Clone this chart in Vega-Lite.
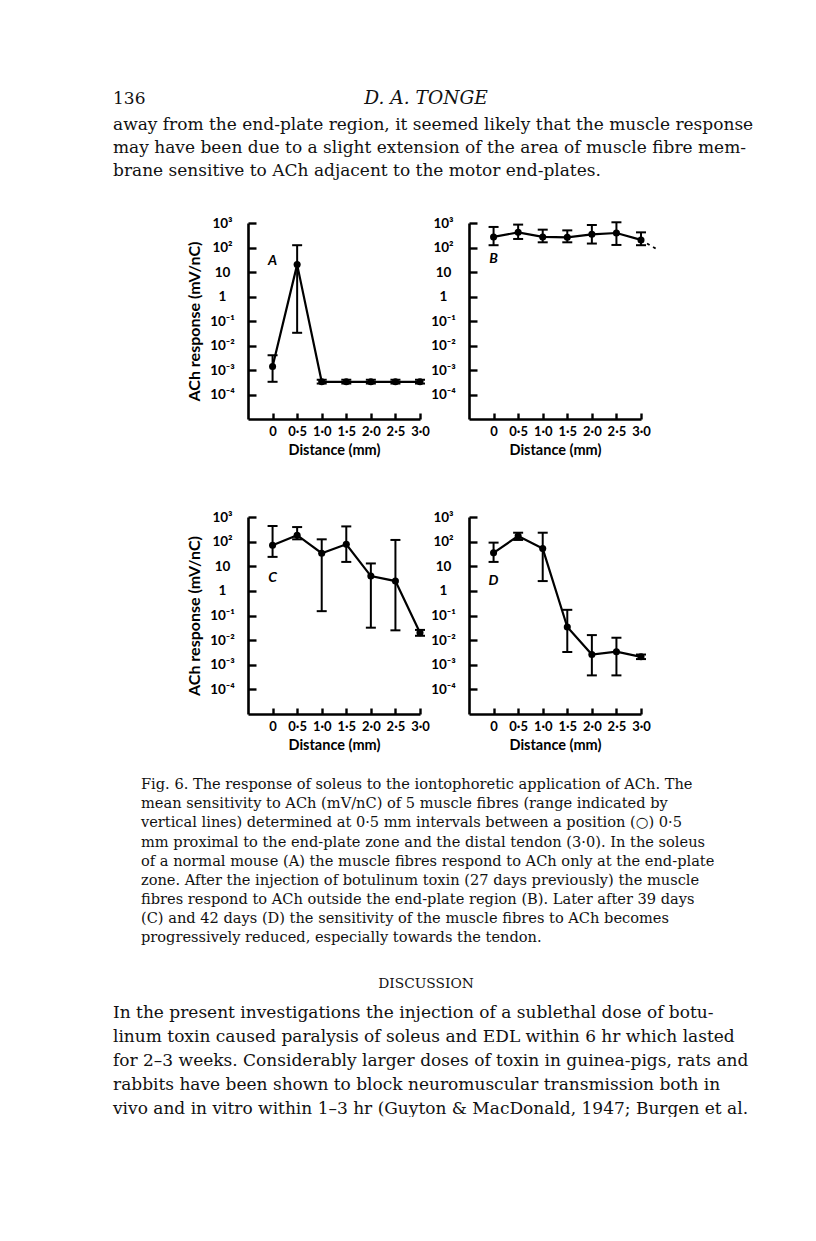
{
  "$schema": "https://vega.github.io/schema/vega-lite/v6.json",
  "background": "white",
  "padding": {"left": 113, "top": 0, "right": 0, "bottom": 0},
  "columns": 3,
  "bounds": "flush",
  "spacing": {"row": 98, "column": 49},
  "config": {"view": {"stroke": null}, "axis": {"grid": false}},
  "datasets": {
    "ach": [
      {"panel": "A", "d": 0, "v": 0.0014, "lo": 0.00033, "hi": 0.004},
      {"panel": "A", "d": 0.5, "v": 20, "lo": 0.033, "hi": 124},
      {"panel": "A", "d": 1, "v": 0.00033, "lo": 0.00028, "hi": 0.0004},
      {"panel": "A", "d": 1.5, "v": 0.00033, "lo": 0.00028, "hi": 0.0004},
      {"panel": "A", "d": 2, "v": 0.00033, "lo": 0.00028, "hi": 0.0004},
      {"panel": "A", "d": 2.5, "v": 0.00033, "lo": 0.00028, "hi": 0.0004},
      {"panel": "A", "d": 3, "v": 0.00033, "lo": 0.00028, "hi": 0.0004},
      {"panel": "B", "d": 0, "v": 270, "lo": 124, "hi": 690},
      {"panel": "B", "d": 0.5, "v": 415, "lo": 223, "hi": 860},
      {"panel": "B", "d": 1, "v": 270, "lo": 163, "hi": 535},
      {"panel": "B", "d": 1.5, "v": 260, "lo": 163, "hi": 500},
      {"panel": "B", "d": 2, "v": 345, "lo": 145, "hi": 830},
      {"panel": "B", "d": 2.5, "v": 390, "lo": 127, "hi": 1070},
      {"panel": "B", "d": 3, "v": 204, "lo": 124, "hi": 415},
      {"panel": "C", "d": 0, "v": 71, "lo": 24, "hi": 430},
      {"panel": "C", "d": 0.5, "v": 182, "lo": 124, "hi": 390},
      {"panel": "C", "d": 1, "v": 34, "lo": 0.15, "hi": 124},
      {"panel": "C", "d": 1.5, "v": 78, "lo": 15, "hi": 415},
      {"panel": "C", "d": 2, "v": 4, "lo": 0.032, "hi": 13},
      {"panel": "C", "d": 2.5, "v": 2.5, "lo": 0.025, "hi": 117},
      {"panel": "C", "d": 3, "v": 0.02, "lo": 0.015, "hi": 0.026},
      {"panel": "D", "d": 0, "v": 35, "lo": 15, "hi": 91},
      {"panel": "D", "d": 0.5, "v": 170, "lo": 117, "hi": 230},
      {"panel": "D", "d": 1, "v": 52, "lo": 2.5, "hi": 230},
      {"panel": "D", "d": 1.5, "v": 0.034, "lo": 0.0033, "hi": 0.17},
      {"panel": "D", "d": 2, "v": 0.0026, "lo": 0.00037, "hi": 0.016},
      {"panel": "D", "d": 2.5, "v": 0.0034, "lo": 0.00037, "hi": 0.0125},
      {"panel": "D", "d": 3, "v": 0.0021, "lo": 0.0017, "hi": 0.0026}
    ],
    "tail": [
      {"panel": "B", "d": 3, "v": 204},
      {"panel": "B", "d": 3.3, "v": 90}
    ],
    "labels": [
      {"panel": "A", "label": "A", "d": 0, "v": 28},
      {"panel": "B", "label": "B", "d": 0, "v": 34},
      {"panel": "C", "label": "C", "d": 0, "v": 3.3},
      {"panel": "D", "label": "D", "d": 0, "v": 2.5}
    ],
    "page": [
      {"block": "top", "kind": "folio", "line": 0, "text": "136"},
      {"block": "top", "kind": "running", "line": 0, "text": "D. A. TONGE"},
      {"block": "top", "kind": "body", "line": 1, "text": "away from the end-plate region, it seemed likely that the muscle response"},
      {"block": "top", "kind": "body", "line": 2, "text": "may have been due to a slight extension of the area of muscle fibre mem-"},
      {"block": "top", "kind": "body", "line": 3, "text": "brane sensitive to ACh adjacent to the motor end-plates."},
      {"block": "bottom", "kind": "caption", "line": 0, "text": "\u2002Fig. 6. The response of soleus to the iontophoretic application of ACh. The"},
      {"block": "bottom", "kind": "caption", "line": 1, "text": "mean sensitivity to ACh (mV/nC) of 5 muscle fibres (range indicated by"},
      {"block": "bottom", "kind": "caption", "line": 2, "text": "vertical lines) determined at 0\u00b75 mm intervals between a position (\u25cb) 0\u00b75"},
      {"block": "bottom", "kind": "caption", "line": 3, "text": "mm proximal to the end-plate zone and the distal tendon (3\u00b70). In the soleus"},
      {"block": "bottom", "kind": "caption", "line": 4, "text": "of a normal mouse (A) the muscle fibres respond to ACh only at the end-plate"},
      {"block": "bottom", "kind": "caption", "line": 5, "text": "zone. After the injection of botulinum toxin (27 days previously) the muscle"},
      {"block": "bottom", "kind": "caption", "line": 6, "text": "fibres respond to ACh outside the end-plate region (B). Later after 39 days"},
      {"block": "bottom", "kind": "caption", "line": 7, "text": "(C) and 42 days (D) the sensitivity of the muscle fibres to ACh becomes"},
      {"block": "bottom", "kind": "caption", "line": 8, "text": "progressively reduced, especially towards the tendon."},
      {"block": "bottom", "kind": "heading", "line": 0, "text": "DISCUSSION"},
      {"block": "bottom", "kind": "discussion", "line": 1, "text": "\u2003\u2004In the present investigations the injection of a sublethal dose of botu-"},
      {"block": "bottom", "kind": "discussion", "line": 2, "text": "linum toxin caused paralysis of soleus and EDL within 6 hr which lasted"},
      {"block": "bottom", "kind": "discussion", "line": 3, "text": "for 2\u20133 weeks. Considerably larger doses of toxin in guinea-pigs, rats and"},
      {"block": "bottom", "kind": "discussion", "line": 4, "text": "rabbits have been shown to block neuromuscular transmission both in"},
      {"block": "bottom", "kind": "discussion", "line": 5, "text": "vivo and in vitro within 1\u20133 hr (Guyton & MacDonald, 1947; Burgen et al."}
    ]
  },
  "concat": [
    {
      "width": 86, "height": 119,
      "data": {"name": "page"},
      "transform": [{"filter": "datum.block === 'top'"}],
      "layer": [
        {
          "transform": [{"filter": "datum.kind === 'folio'"}],
          "mark": {"type": "text", "align": "left", "baseline": "alphabetic", "font": "DejaVu Serif", "fontSize": 17, "color": "#111", "dy": -2},
          "encoding": {
            "x": {"datum": 0, "type": "quantitative", "scale": {"domain": [0, 1], "range": [0, 626], "nice": false, "zero": false}, "axis": null},
            "y": {"field": "line", "type": "quantitative", "scale": {"domain": [1, 3], "range": [123.5, 170], "nice": false, "zero": false}, "axis": null},
            "text": {"field": "text"}
          }
        },
        {
          "transform": [{"filter": "datum.kind === 'running'"}],
          "mark": {"type": "text", "align": "center", "baseline": "alphabetic", "font": "DejaVu Serif", "fontStyle": "italic", "fontSize": 18.6, "color": "#111", "dy": -2},
          "encoding": {
            "x": {"datum": 0.5, "type": "quantitative", "scale": {"domain": [0, 1], "range": [0, 626], "nice": false, "zero": false}, "axis": null},
            "y": {"field": "line", "type": "quantitative", "scale": {"domain": [1, 3], "range": [123.5, 170], "nice": false, "zero": false}, "axis": null},
            "text": {"field": "text"}
          }
        },
        {
          "transform": [{"filter": "datum.kind === 'body'"}],
          "mark": {"type": "text", "align": "left", "baseline": "alphabetic", "font": "DejaVu Serif", "fontSize": 17, "color": "#111"},
          "encoding": {
            "x": {"datum": 0, "type": "quantitative", "scale": {"domain": [0, 1], "range": [0, 626], "nice": false, "zero": false}, "axis": null},
            "y": {"field": "line", "type": "quantitative", "scale": {"domain": [1, 3], "range": [123.5, 170], "nice": false, "zero": false}, "axis": null},
            "text": {"field": "text"}
          }
        }
      ]
    },
    {"width": 1, "height": 1, "data": {"values": [{"t": ""}]}, "mark": {"type": "text"}, "encoding": {"text": {"field": "t"}}},
    {"width": 1, "height": 1, "data": {"values": [{"t": ""}]}, "mark": {"type": "text"}, "encoding": {"text": {"field": "t"}}},
    {"width": 1, "height": 1, "data": {"values": [{"t": ""}]}, "mark": {"type": "text"}, "encoding": {"text": {"field": "t"}}},
    {
      "width": 172, "height": 196,
      "data": {"name": "ach"},
      "transform": [{"filter": "datum.panel === 'A'"}],
      "encoding": {
        "x": {"field": "d", "type": "quantitative", "scale": {"domain": [-0.5, 3], "nice": false, "zero": false},
          "axis": {"values": [0, 0.5, 1, 1.5, 2, 2.5, 3], "labelExpr": "datum.value === 0 ? '0' : replace(format(datum.value, '.1f'), '.', '\u00b7')", "title": "Distance (mm)", "domainColor": "black", "domainWidth": 2.6, "tickColor": "black", "tickWidth": 2.4, "tickSize": -6, "labelFont": "Lato", "labelFontSize": 13, "labelFontWeight": "bold", "labelColor": "black", "labelPadding": 12, "labelFlush": false, "labelOverlap": false, "titleFont": "Lato", "titleFontSize": 14.5, "titleFontWeight": "bold", "titleColor": "black", "titlePadding": 5}}
      },
      "layer": [
        {"mark": {"type": "line", "color": "black", "strokeWidth": 2.2},
          "encoding": {"y": {"field": "v", "type": "quantitative", "scale": {"type": "log", "domain": [0.00001, 1000], "nice": false},
            "axis": {"values": [0.0001, 0.001, 0.01, 0.1, 1, 10, 100, 1000], "labelExpr": "datum.value > 999 ? '10\u00b3' : datum.value > 99 ? '10\u00b2' : datum.value > 9.9 ? '10' : datum.value > 0.99 ? '1' : datum.value > 0.099 ? '10\u207b\u00b9' : datum.value > 0.0099 ? '10\u207b\u00b2' : datum.value > 0.00099 ? '10\u207b\u00b3' : '10\u207b\u2074'", "title": "ACh response (mV/nC)", "domainColor": "black", "domainWidth": 2.6, "tickColor": "black", "tickWidth": 2.4, "tickSize": -8, "labelFont": "Lato", "labelFontSize": 13.5, "labelFontWeight": "bold", "labelColor": "black", "labelAlign": "center", "labelBaseline": "middle", "labelPadding": 34, "labelOverlap": false, "labelFlush": false, "titleFont": "Lato", "titleFontSize": 16, "titleFontWeight": "bold", "titleColor": "black", "titlePadding": 7}}}},
        {"mark": {"type": "rule", "color": "black", "strokeWidth": 2},
          "encoding": {"y": {"field": "lo", "type": "quantitative", "scale": {"type": "log", "domain": [0.00001, 1000], "nice": false}}, "y2": {"field": "hi"}}},
        {"mark": {"type": "tick", "orient": "horizontal", "color": "black", "size": 10, "thickness": 2, "opacity": 1},
          "encoding": {"y": {"field": "lo", "type": "quantitative", "scale": {"type": "log", "domain": [0.00001, 1000], "nice": false}}}},
        {"mark": {"type": "tick", "orient": "horizontal", "color": "black", "size": 10, "thickness": 2, "opacity": 1},
          "encoding": {"y": {"field": "hi", "type": "quantitative", "scale": {"type": "log", "domain": [0.00001, 1000], "nice": false}}}},
        {"mark": {"type": "circle", "color": "black", "size": 50, "opacity": 1},
          "encoding": {"y": {"field": "v", "type": "quantitative", "scale": {"type": "log", "domain": [0.00001, 1000], "nice": false}}}},
        {"data": {"name": "labels"},
          "transform": [{"filter": "datum.panel === 'A'"}],
          "mark": {"type": "text", "font": "Lato", "fontStyle": "italic", "fontWeight": "bold", "fontSize": 14, "color": "black", "align": "center", "baseline": "middle"},
          "encoding": {"y": {"field": "v", "type": "quantitative", "scale": {"type": "log", "domain": [0.00001, 1000], "nice": false}}, "text": {"field": "label"}}}
      ]
    },
    {
      "width": 172, "height": 196,
      "data": {"name": "ach"},
      "transform": [{"filter": "datum.panel === 'B'"}],
      "encoding": {
        "x": {"field": "d", "type": "quantitative", "scale": {"domain": [-0.5, 3], "nice": false, "zero": false},
          "axis": {"values": [0, 0.5, 1, 1.5, 2, 2.5, 3], "labelExpr": "datum.value === 0 ? '0' : replace(format(datum.value, '.1f'), '.', '\u00b7')", "title": "Distance (mm)", "domainColor": "black", "domainWidth": 2.6, "tickColor": "black", "tickWidth": 2.4, "tickSize": -6, "labelFont": "Lato", "labelFontSize": 13, "labelFontWeight": "bold", "labelColor": "black", "labelPadding": 12, "labelFlush": false, "labelOverlap": false, "titleFont": "Lato", "titleFontSize": 14.5, "titleFontWeight": "bold", "titleColor": "black", "titlePadding": 5}}
      },
      "layer": [
        {"mark": {"type": "line", "color": "black", "strokeWidth": 2.2},
          "encoding": {"y": {"field": "v", "type": "quantitative", "scale": {"type": "log", "domain": [0.00001, 1000], "nice": false},
            "axis": {"values": [0.0001, 0.001, 0.01, 0.1, 1, 10, 100, 1000], "labelExpr": "datum.value > 999 ? '10\u00b3' : datum.value > 99 ? '10\u00b2' : datum.value > 9.9 ? '10' : datum.value > 0.99 ? '1' : datum.value > 0.099 ? '10\u207b\u00b9' : datum.value > 0.0099 ? '10\u207b\u00b2' : datum.value > 0.00099 ? '10\u207b\u00b3' : '10\u207b\u2074'", "title": "", "domainColor": "black", "domainWidth": 2.6, "tickColor": "black", "tickWidth": 2.4, "tickSize": -8, "labelFont": "Lato", "labelFontSize": 13.5, "labelFontWeight": "bold", "labelColor": "black", "labelAlign": "center", "labelBaseline": "middle", "labelPadding": 34, "labelOverlap": false, "labelFlush": false}}}},
        {"data": {"name": "tail"},
          "mark": {"type": "line", "color": "black", "strokeWidth": 1.8, "strokeDash": [3, 4]},
          "encoding": {"y": {"field": "v", "type": "quantitative", "scale": {"type": "log", "domain": [0.00001, 1000], "nice": false}}}},
        {"mark": {"type": "rule", "color": "black", "strokeWidth": 2},
          "encoding": {"y": {"field": "lo", "type": "quantitative", "scale": {"type": "log", "domain": [0.00001, 1000], "nice": false}}, "y2": {"field": "hi"}}},
        {"mark": {"type": "tick", "orient": "horizontal", "color": "black", "size": 10, "thickness": 2, "opacity": 1},
          "encoding": {"y": {"field": "lo", "type": "quantitative", "scale": {"type": "log", "domain": [0.00001, 1000], "nice": false}}}},
        {"mark": {"type": "tick", "orient": "horizontal", "color": "black", "size": 10, "thickness": 2, "opacity": 1},
          "encoding": {"y": {"field": "hi", "type": "quantitative", "scale": {"type": "log", "domain": [0.00001, 1000], "nice": false}}}},
        {"mark": {"type": "circle", "color": "black", "size": 50, "opacity": 1},
          "encoding": {"y": {"field": "v", "type": "quantitative", "scale": {"type": "log", "domain": [0.00001, 1000], "nice": false}}}},
        {"data": {"name": "labels"},
          "transform": [{"filter": "datum.panel === 'B'"}],
          "mark": {"type": "text", "font": "Lato", "fontStyle": "italic", "fontWeight": "bold", "fontSize": 14, "color": "black", "align": "center", "baseline": "middle"},
          "encoding": {"y": {"field": "v", "type": "quantitative", "scale": {"type": "log", "domain": [0.00001, 1000], "nice": false}}, "text": {"field": "label"}}}
      ]
    },
    {
      "width": 86, "height": 197,
      "data": {"name": "page"},
      "transform": [{"filter": "datum.block === 'bottom'"}],
      "resolve": {"scale": {"y": "independent"}},
      "layer": [
        {
          "transform": [{"filter": "datum.kind === 'caption'"}],
          "mark": {"type": "text", "align": "left", "baseline": "alphabetic", "font": "DejaVu Serif", "fontSize": 14.6, "color": "#111"},
          "encoding": {
            "x": {"datum": 0.0447, "type": "quantitative", "scale": {"domain": [0, 1], "range": [0, 626], "nice": false, "zero": false}, "axis": null},
            "y": {"field": "line", "type": "quantitative", "scale": {"domain": [0, 8], "range": [272.3, 425], "nice": false, "zero": false}, "axis": null},
            "text": {"field": "text"}
          }
        },
        {
          "transform": [{"filter": "datum.kind === 'heading'"}],
          "mark": {"type": "text", "align": "center", "baseline": "alphabetic", "font": "DejaVu Serif", "fontSize": 13.8, "color": "#111", "dy": -6.7},
          "encoding": {
            "x": {"datum": 0.5, "type": "quantitative", "scale": {"domain": [0, 1], "range": [0, 626], "nice": false, "zero": false}, "axis": null},
            "y": {"field": "line", "type": "quantitative", "scale": {"domain": [1, 5], "range": [501.3, 596.7], "nice": false, "zero": false}, "axis": null},
            "text": {"field": "text"}
          }
        },
        {
          "transform": [{"filter": "datum.kind === 'discussion'"}],
          "mark": {"type": "text", "align": "left", "baseline": "alphabetic", "font": "DejaVu Serif", "fontSize": 17, "color": "#111"},
          "encoding": {
            "x": {"datum": 0, "type": "quantitative", "scale": {"domain": [0, 1], "range": [0, 626], "nice": false, "zero": false}, "axis": null},
            "y": {"field": "line", "type": "quantitative", "scale": {"domain": [1, 5], "range": [501.3, 596.7], "nice": false, "zero": false}, "axis": null},
            "text": {"field": "text"}
          }
        }
      ]
    },
    {
      "width": 172, "height": 197,
      "data": {"name": "ach"},
      "transform": [{"filter": "datum.panel === 'C'"}],
      "encoding": {
        "x": {"field": "d", "type": "quantitative", "scale": {"domain": [-0.5, 3], "nice": false, "zero": false},
          "axis": {"values": [0, 0.5, 1, 1.5, 2, 2.5, 3], "labelExpr": "datum.value === 0 ? '0' : replace(format(datum.value, '.1f'), '.', '\u00b7')", "title": "Distance (mm)", "domainColor": "black", "domainWidth": 2.6, "tickColor": "black", "tickWidth": 2.4, "tickSize": -6, "labelFont": "Lato", "labelFontSize": 13, "labelFontWeight": "bold", "labelColor": "black", "labelPadding": 12, "labelFlush": false, "labelOverlap": false, "titleFont": "Lato", "titleFontSize": 14.5, "titleFontWeight": "bold", "titleColor": "black", "titlePadding": 5}}
      },
      "layer": [
        {"mark": {"type": "line", "color": "black", "strokeWidth": 2.2},
          "encoding": {"y": {"field": "v", "type": "quantitative", "scale": {"type": "log", "domain": [0.00001, 1000], "nice": false},
            "axis": {"values": [0.0001, 0.001, 0.01, 0.1, 1, 10, 100, 1000], "labelExpr": "datum.value > 999 ? '10\u00b3' : datum.value > 99 ? '10\u00b2' : datum.value > 9.9 ? '10' : datum.value > 0.99 ? '1' : datum.value > 0.099 ? '10\u207b\u00b9' : datum.value > 0.0099 ? '10\u207b\u00b2' : datum.value > 0.00099 ? '10\u207b\u00b3' : '10\u207b\u2074'", "title": "ACh response (mV/nC)", "domainColor": "black", "domainWidth": 2.6, "tickColor": "black", "tickWidth": 2.4, "tickSize": -8, "labelFont": "Lato", "labelFontSize": 13.5, "labelFontWeight": "bold", "labelColor": "black", "labelAlign": "center", "labelBaseline": "middle", "labelPadding": 34, "labelOverlap": false, "labelFlush": false, "titleFont": "Lato", "titleFontSize": 16, "titleFontWeight": "bold", "titleColor": "black", "titlePadding": 7}}}},
        {"mark": {"type": "rule", "color": "black", "strokeWidth": 2},
          "encoding": {"y": {"field": "lo", "type": "quantitative", "scale": {"type": "log", "domain": [0.00001, 1000], "nice": false}}, "y2": {"field": "hi"}}},
        {"mark": {"type": "tick", "orient": "horizontal", "color": "black", "size": 10, "thickness": 2, "opacity": 1},
          "encoding": {"y": {"field": "lo", "type": "quantitative", "scale": {"type": "log", "domain": [0.00001, 1000], "nice": false}}}},
        {"mark": {"type": "tick", "orient": "horizontal", "color": "black", "size": 10, "thickness": 2, "opacity": 1},
          "encoding": {"y": {"field": "hi", "type": "quantitative", "scale": {"type": "log", "domain": [0.00001, 1000], "nice": false}}}},
        {"mark": {"type": "circle", "color": "black", "size": 50, "opacity": 1},
          "encoding": {"y": {"field": "v", "type": "quantitative", "scale": {"type": "log", "domain": [0.00001, 1000], "nice": false}}}},
        {"data": {"name": "labels"},
          "transform": [{"filter": "datum.panel === 'C'"}],
          "mark": {"type": "text", "font": "Lato", "fontStyle": "italic", "fontWeight": "bold", "fontSize": 14, "color": "black", "align": "center", "baseline": "middle"},
          "encoding": {"y": {"field": "v", "type": "quantitative", "scale": {"type": "log", "domain": [0.00001, 1000], "nice": false}}, "text": {"field": "label"}}}
      ]
    },
    {
      "width": 172, "height": 197,
      "data": {"name": "ach"},
      "transform": [{"filter": "datum.panel === 'D'"}],
      "encoding": {
        "x": {"field": "d", "type": "quantitative", "scale": {"domain": [-0.5, 3], "nice": false, "zero": false},
          "axis": {"values": [0, 0.5, 1, 1.5, 2, 2.5, 3], "labelExpr": "datum.value === 0 ? '0' : replace(format(datum.value, '.1f'), '.', '\u00b7')", "title": "Distance (mm)", "domainColor": "black", "domainWidth": 2.6, "tickColor": "black", "tickWidth": 2.4, "tickSize": -6, "labelFont": "Lato", "labelFontSize": 13, "labelFontWeight": "bold", "labelColor": "black", "labelPadding": 12, "labelFlush": false, "labelOverlap": false, "titleFont": "Lato", "titleFontSize": 14.5, "titleFontWeight": "bold", "titleColor": "black", "titlePadding": 5}}
      },
      "layer": [
        {"mark": {"type": "line", "color": "black", "strokeWidth": 2.2},
          "encoding": {"y": {"field": "v", "type": "quantitative", "scale": {"type": "log", "domain": [0.00001, 1000], "nice": false},
            "axis": {"values": [0.0001, 0.001, 0.01, 0.1, 1, 10, 100, 1000], "labelExpr": "datum.value > 999 ? '10\u00b3' : datum.value > 99 ? '10\u00b2' : datum.value > 9.9 ? '10' : datum.value > 0.99 ? '1' : datum.value > 0.099 ? '10\u207b\u00b9' : datum.value > 0.0099 ? '10\u207b\u00b2' : datum.value > 0.00099 ? '10\u207b\u00b3' : '10\u207b\u2074'", "title": "", "domainColor": "black", "domainWidth": 2.6, "tickColor": "black", "tickWidth": 2.4, "tickSize": -8, "labelFont": "Lato", "labelFontSize": 13.5, "labelFontWeight": "bold", "labelColor": "black", "labelAlign": "center", "labelBaseline": "middle", "labelPadding": 34, "labelOverlap": false, "labelFlush": false}}}},
        {"mark": {"type": "rule", "color": "black", "strokeWidth": 2},
          "encoding": {"y": {"field": "lo", "type": "quantitative", "scale": {"type": "log", "domain": [0.00001, 1000], "nice": false}}, "y2": {"field": "hi"}}},
        {"mark": {"type": "tick", "orient": "horizontal", "color": "black", "size": 10, "thickness": 2, "opacity": 1},
          "encoding": {"y": {"field": "lo", "type": "quantitative", "scale": {"type": "log", "domain": [0.00001, 1000], "nice": false}}}},
        {"mark": {"type": "tick", "orient": "horizontal", "color": "black", "size": 10, "thickness": 2, "opacity": 1},
          "encoding": {"y": {"field": "hi", "type": "quantitative", "scale": {"type": "log", "domain": [0.00001, 1000], "nice": false}}}},
        {"mark": {"type": "circle", "color": "black", "size": 50, "opacity": 1},
          "encoding": {"y": {"field": "v", "type": "quantitative", "scale": {"type": "log", "domain": [0.00001, 1000], "nice": false}}}},
        {"data": {"name": "labels"},
          "transform": [{"filter": "datum.panel === 'D'"}],
          "mark": {"type": "text", "font": "Lato", "fontStyle": "italic", "fontWeight": "bold", "fontSize": 14, "color": "black", "align": "center", "baseline": "middle"},
          "encoding": {"y": {"field": "v", "type": "quantitative", "scale": {"type": "log", "domain": [0.00001, 1000], "nice": false}}, "text": {"field": "label"}}}
      ]
    }
  ]
}
